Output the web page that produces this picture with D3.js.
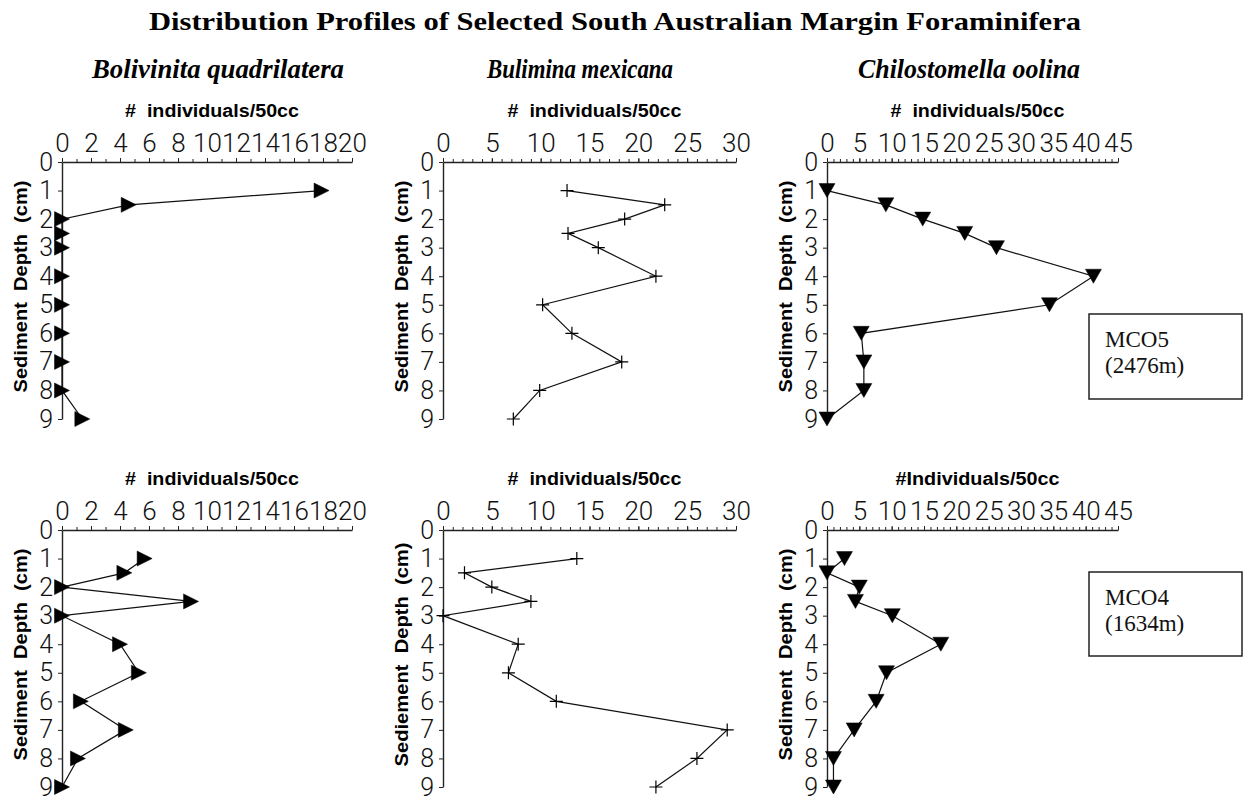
<!DOCTYPE html>
<html>
<head>
<meta charset="utf-8">
<script src="https://cdn.jsdelivr.net/npm/d3@7"></script>
<style>
  html, body { margin: 0; padding: 0; background: #fff; }
  svg { display: block; }
  text { white-space: pre; }
</style>
</head>
<body>
<svg id="chart" width="1244" height="799"></svg>
<script>
// ---------------- DATA ----------------
const title = "Distribution Profiles of Selected South Australian Margin Foraminifera";
const species = ["Bolivinita quadrilatera", "Bulimina mexicana", "Chilostomella oolina"];
const depths = [1, 1.5, 2, 2.5, 3, 4, 5, 6, 7, 8, 9];
const depthTicks = [0, 1, 2, 3, 4, 5, 6, 7, 8, 9];

// MCO5 (2476m)
const mco5Bolivinita     = [17.9, 4.6, 0, 0, 0, 0, 0, 0, 0, 0, 1.4];
const mco5Bulimina       = [12.7, 22.7, 18.6, 12.8, 15.9, 21.8, 10.2, 13.2, 18.3, 9.9, 7.2];
const mco5Chilostomella  = [0, 9.1, 14.8, 21.3, 26.2, 41.2, 34.4, 5.3, 5.7, 5.7, 0];
// MCO4 (1634m)
const mco4Bolivinita     = [5.7, 4.3, 0, 8.9, 0, 4.0, 5.3, 1.3, 4.4, 1.1, 0];
const mco4Bulimina       = [13.7, 2.2, 5.0, 9.0, 0, 7.7, 6.7, 11.6, 29.1, 26.0, 21.8];
const mco4Chilostomella  = [2.7, 0, 5.0, 4.4, 10.1, 17.6, 9.2, 7.6, 4.2, 1.0, 1.0];

const xMaxima = [20, 30, 45];
const xMajorSteps = [2, 5, 5];
const xTitlesTop = ["#  individuals/50cc", "#  individuals/50cc", "#  individuals/50cc"];
const xTitlesBottom = ["#  individuals/50cc", "#  individuals/50cc", "#Individuals/50cc"];
const yTitlesTop = ["Sediment  Depth  (cm)", "Sediment  Depth  (cm)", "Sediment  Depth  (cm)"];
const yTitlesBottom = ["Sediment  Depth  (cm)", "Sediement  Depth  (cm)", "Sediment  Depth  (cm)"];
const markerKinds = ["right", "plus", "down"];
const stationLabels = [["MCO5", "(2476m)"], ["MCO4", "(1634m)"]];

// ---------------- LAYOUT ----------------
const svg = d3.select("#chart");
const colX = [[62, 352], [443, 736], [827, 1118]];
const rowY = [[162, 419], [530, 787]];
const yTitleX = [27, 408, 792];

// custom marker shapes
const triRight = { draw(ctx) { const w = 15, h = 15;
  ctx.moveTo(-w/2, -h/2); ctx.lineTo(w/2, 0); ctx.lineTo(-w/2, h/2); ctx.closePath(); } };
const triDown = { draw(ctx) { const w = 16, h = 14;
  ctx.moveTo(-w/2, -h/2); ctx.lineTo(w/2, -h/2); ctx.lineTo(0, h/2); ctx.closePath(); } };
const plus = { draw(ctx) { const r = 6.5;
  ctx.moveTo(-r, 0); ctx.lineTo(r, 0); ctx.moveTo(0, -r); ctx.lineTo(0, r); } };

const serif = "'Liberation Serif', 'Times New Roman', serif";
const sans = "'Liberation Sans', Arial, sans-serif";
const tickFont = "Roboto, 'Liberation Sans', sans-serif";

// Title
svg.append("text")
  .attr("x", 615).attr("y", 30)
  .attr("text-anchor", "middle")
  .attr("textLength", 932).attr("lengthAdjust", "spacingAndGlyphs")
  .style("font-family", serif)
  .style("font-weight", "bold")
  .style("font-size", "25px")
  .text(title);

// Species headings
const headX = [218, 580, 969];
const headW = [252, 186, 222];
species.forEach((s, i) => {
  svg.append("text")
    .attr("x", headX[i]).attr("y", 78)
    .attr("text-anchor", "middle")
    .attr("textLength", headW[i]).attr("lengthAdjust", "spacingAndGlyphs")
    .style("font-family", serif)
    .style("font-weight", "bold")
    .style("font-style", "italic")
    .style("font-size", "28px")
    .text(s);
});

const rows = [
  { data: [mco5Bolivinita, mco5Bulimina, mco5Chilostomella], xt: xTitlesTop, yt: yTitlesTop },
  { data: [mco4Bolivinita, mco4Bulimina, mco4Chilostomella], xt: xTitlesBottom, yt: yTitlesBottom }
];

rows.forEach((row, r) => {
  const [y0, y1] = rowY[r];
  const y = d3.scaleLinear().domain([0, 9]).range([y0, y1]);
  row.data.forEach((vals, c) => {
    const [x0, x1] = colX[c];
    const x = d3.scaleLinear().domain([0, xMaxima[c]]).range([x0, x1]);
    const g = svg.append("g");

    // minor ticks
    const minor = d3.range(0, xMaxima[c] + 0.001, 1);
    g.append("g").attr("transform", `translate(0,${y0})`)
      .call(d3.axisTop(x).tickValues(minor).tickSize(3).tickSizeOuter(0).tickFormat(""))
      .call(a => a.selectAll("line").attr("stroke", "#222"))
      .call(a => a.select(".domain").attr("stroke", "#222").attr("stroke-width", 1.4));
    // major ticks + labels
    const major = d3.range(0, xMaxima[c] + 0.001, xMajorSteps[c]);
    g.append("g").attr("transform", `translate(0,${y0})`)
      .call(d3.axisTop(x).tickValues(major).tickSize(4).tickSizeOuter(0).tickPadding(6).tickFormat(d3.format("d")))
      .call(a => a.select(".domain").remove())
      .call(a => a.selectAll("line").attr("stroke", "#222"))
      .call(a => a.selectAll("text")
        .style("font-family", tickFont).style("font-weight", 300)
        .style("font-size", "26px").attr("fill", "#111"));

    // y axis
    g.append("g").attr("transform", `translate(${x0},0)`)
      .call(d3.axisLeft(y).tickValues(depthTicks).tickSize(4).tickSizeOuter(0).tickPadding(5).tickFormat(d3.format("d")))
      .call(a => a.select(".domain").attr("stroke", "#222").attr("stroke-width", 1.4))
      .call(a => a.selectAll("line").attr("stroke", "#222"))
      .call(a => a.selectAll("text")
        .style("font-family", tickFont).style("font-weight", 300)
        .style("font-size", "25px").attr("fill", "#111"));

    // x title
    const xt = row.xt[c];
    g.append("text")
      .attr("x", (x0 + x1) / 2 + 5).attr("y", y0 - 45)
      .attr("text-anchor", "middle")
      .attr("textLength", xt.startsWith("#I") ? 164 : 174).attr("lengthAdjust", "spacingAndGlyphs")
      .style("font-family", sans)
      .style("font-weight", "bold").style("font-size", "18px")
      .text(xt);

    // y title
    const yt = row.yt[c];
    g.append("text")
      .attr("transform", `translate(${yTitleX[c]},${(y0 + y1) / 2 - 4}) rotate(-90)`)
      .attr("text-anchor", "middle")
      .attr("textLength", yt.startsWith("Sediement") ? 224 : 212).attr("lengthAdjust", "spacingAndGlyphs")
      .style("font-family", sans)
      .style("font-weight", "bold").style("font-size", "19px")
      .text(yt);

    // line
    const pts = depths.map((d, i) => [vals[i], d]);
    const line = d3.line().x(p => x(p[0])).y(p => y(p[1]));
    g.append("path").datum(pts)
      .attr("d", line).attr("fill", "none")
      .attr("stroke", "#111").attr("stroke-width", 1.2);

    // markers
    const kind = markerKinds[c];
    const sym = d3.symbol().type(kind === "right" ? triRight : kind === "down" ? triDown : plus);
    g.selectAll("path.m").data(pts).join("path")
      .attr("class", "m")
      .attr("transform", p => `translate(${x(p[0])},${y(p[1])})`)
      .attr("d", sym)
      .attr("fill", kind === "plus" ? "none" : "#000")
      .attr("stroke", "#000")
      .attr("stroke-width", kind === "plus" ? 1.2 : 0.5);
  });
});

// Station boxes
const boxY = [[314, 399], [572, 656]];
stationLabels.forEach((lab, i) => {
  const [t, b] = boxY[i];
  svg.append("rect")
    .attr("x", 1089).attr("y", t).attr("width", 153).attr("height", b - t)
    .attr("fill", "#fff").attr("stroke", "#222").attr("stroke-width", 1.5);
  lab.forEach((s, k) => {
    svg.append("text")
      .attr("x", 1105).attr("y", t + 33 + k * 26)
      .style("font-family", serif)
      .style("font-size", "23px").attr("fill", "#111")
      .text(s);
  });
});
</script>
</body>
</html>
